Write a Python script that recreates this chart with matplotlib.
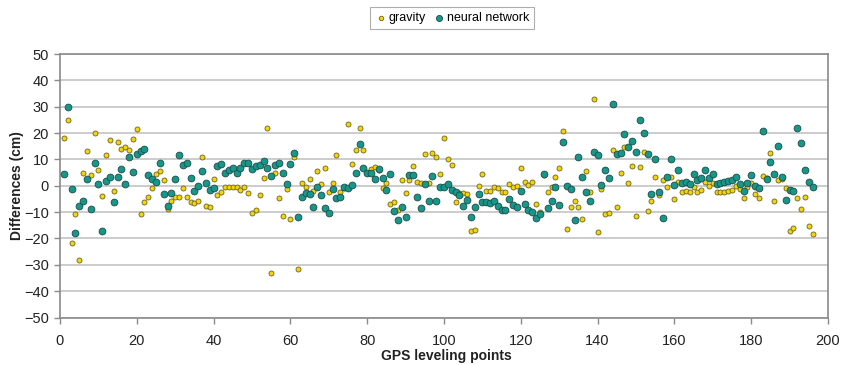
import matplotlib
matplotlib.use("Agg")
import matplotlib.pyplot as plt
from matplotlib import font_manager
import numpy as np

plt.rcParams['font.family'] = ['Liberation Sans', 'DejaVu Sans']
names = {f.name for f in font_manager.fontManager.ttflist}
tick_family = ['Liberation Sans Narrow', 'Liberation Sans'] if 'Liberation Sans Narrow' in names else ['Liberation Sans']

points = list(range(1, 197))

gravity = [
    18, 25, -21.6, -10.9, -28, 5, 13, 3.9, 20, 6,
    -3.9, 11.6, 17.3, -1.9, 16.7, 13.9, 14.8, 13.4, 17.7, 21.4,
    -10.9, -6, -4.2, -1, 4.4, 5.7, 2.2, -8.9, -5.9, -4.2,
    -4.2, -1, -4.2, -6, -6.5, -5.6, 10.8, -7.7, -8, 2.4,
    -3.5, -2.2, -0.4, -0.4, -0.4, -0.4, -1.6, -0.4, -2.7, -10.3,
    -9.2, -3.5, 2.8, 21.8, -33.3, 4.7, -4.7, -11.5, -1.3, -12.8,
    10.8, -31.5, 1.1, -0.4, 2.4, -1.9, 5.6, 0.6, 6.6, -2.5,
    1.1, 11.6, -2.3, -1, 23.3, 8.1, 13.5, 22, 13.5, 5,
    6.5, 7, 6, -1, 1.1, -7, -6.2, -9.2, 2.2, -2.7,
    2.2, 7.5, 1.5, 1.1, 12, 1.1, 12.5, 10.8, 4.4, 18,
    10.1, 7.7, -6.2, -2.7, -2.7, -3.2, -17.1, -16.8, 0, 4.4,
    -1.9, -1.9, -0.4, -0.8, -2.4, -2.2, 0.6, -0.4, -0.1, 6.8,
    1.5, 0.3, 1.5, -7.1, -10, 4, -2.3, -0.4, 3.2, 6.6,
    20.9, -16.5, -8, -5.9, -8, -12.5, 5.6, -2.3, 32.9, -17.5,
    -1.1, -10.9, -10.3, 13.5, -8, 4.7, 14.8, 1.1, 7.5, -11.6,
    7, 12.8, -9.4, -5.8, 3.2, -3.7, 2, -0.4, 3.2, -5.2,
    1.5, -2.3, -1.9, -2.3, -0.4, -2.5, -1.6, 1.5, 0, 1.1,
    -2.3, -2.5, -2.5, -1.9, -1.6, 0, -1.3, -4.7, -0.4, 1.1,
    -3.2, -4.7, 3.7, 2.8, 12.3, -5.9, 2.2, 2.4, -0.9, -17.2,
    -16.1, -4.7, -8.7, -4.2, -15.3, -18.4,
]

neural_network = [
    4.3, 30, -1.3, -18, -7.7, -5.6, 2.4, -8.9, 8.5, 0.6,
    -17.3, 1.9, 3.4, -6, 3.2, 6.2, 0.5, 11, 5.3, 12,
    13.2, 14, 4, 2.4, 1.5, 8.7, -3.2, -7.7, -2.9, 2.4,
    11.5, 7.8, 8.5, 3, -1.9, -0.1, 5.7, 1.1, -1.5, -0.8,
    7.5, 8.2, 4.7, 6, 6.7, 4.9, 6.7, 8.5, 8.7, 6.3,
    7.5, 7.7, 9.5, 6.7, 3.7, 8, 8.5, 4.7, 0.6, 8.2,
    12.3, -11.8, -4.4, -2.7, -3.3, -8, -0.4, -3.5, -8.6, -10.3,
    -1.4, -4.7, -4.4, -0.4, -0.9, 0.4, 4.9, 15.7, 6.8, 4.9,
    4.7, 2.4, 6.5, 3, -1.6, 4.3, -9.5, -13, -8, -11.8,
    4, 4, -4.2, -8.5, 0.6, -5.7, 3.7, -5.8, -0.6, -0.4,
    0.6, -1.6, -2.3, -3.5, -7.7, -5.4, -11.8, -8, -3.2, -6.3,
    -6.1, -6.7, -5.8, -7.6, -9.2, -9.2, -5.2, -7.3, -8, -1.9,
    -7, -9.2, -9.9, -12.4, -10.8, 4.3, -8.6, -5.7, -0.4, -7.3,
    16.7, 0, -1.3, -13, 11, 3.2, -2.5, -5.8, 12.7, 11.6,
    0.4, 6, 2.8, 31, 12, 12.3, 19.5, 14.8, 17.1, 12.9,
    25, 19.9, 12, -3.3, 10, -2.4, -12.4, 3.2, 10.3, 0.4,
    6, 1.1, 1.5, 0.6, 4.3, 2.2, 2.9, 6, 2.9, 4.3,
    0.6, 0.9, 1.5, 1.9, 2.2, 3.2, 0.6, -1.9, 1.1, 3.9,
    -0.1, -1, 20.9, 2.4, 9, 4.4, 15.1, 3.2, -5.4, -1.6,
    -1.9, 21.9, 16.3, 6, 1.4, -0.4,
]

x_ticks = [0, 20, 40, 60, 80, 100, 120, 140, 160, 180, 200]
y_ticks = [-50, -40, -30, -20, -10, 0, 10, 20, 30, 40, 50]

W, H = 844, 365
fig = plt.figure(figsize=(W / 100, H / 100), dpi=100)
ax = fig.add_axes([60 / W, 1 - 317.5 / H, 768 / W, (317.5 - 54) / H])

ax.scatter(points, gravity, s=13, c='#f2d60c', edgecolors='#6e6320',
           linewidths=0.6, zorder=3, label='gravity')
ax.scatter(points, neural_network, s=24, c='#17968a', edgecolors='#1d4c48',
           linewidths=0.6, zorder=3, label='neural network')

ax.set_xlim(0, 200)
ax.set_ylim(-50, 50)
ax.set_xticks(x_ticks)
ax.set_yticks(y_ticks)
ax.grid(axis='y', color='#c8c8c8', linewidth=1.3, zorder=0)
ax.set_axisbelow(True)
for sp in ax.spines.values():
    sp.set_color('#8a8a8a')
    sp.set_linewidth(1.2)
ax.tick_params(axis='both', direction='out', length=4, width=1,
               color='#8a8a8a', labelsize=10.5, labelcolor='#222222')
ax.tick_params(axis='x', pad=8)
ax.tick_params(axis='y', pad=4)
for lab in ax.get_xticklabels() + ax.get_yticklabels():
    lab.set_family(tick_family)

fig.text(17 / W, 1 - 185.7 / H, 'Differences (cm)', rotation=90,
         ha='center', va='center', fontsize=10, fontweight='bold',
         color='#222222')
fig.text(446 / W, 1 - 356 / H, 'GPS leveling points', ha='center',
         va='center', fontsize=10, fontweight='bold', color='#222222')

leg = fig.legend(loc='center', bbox_to_anchor=(452 / W, 1 - 18 / H), ncol=2,
                 fontsize=9, frameon=True, fancybox=False, handletextpad=0.1,
                 columnspacing=0.6, borderpad=0.4, handlelength=1.0,
                 markerscale=0.9)
leg.get_frame().set_edgecolor('#9a9a9a')
leg.get_frame().set_linewidth(0.8)

fig.savefig('out.png', dpi=100)
